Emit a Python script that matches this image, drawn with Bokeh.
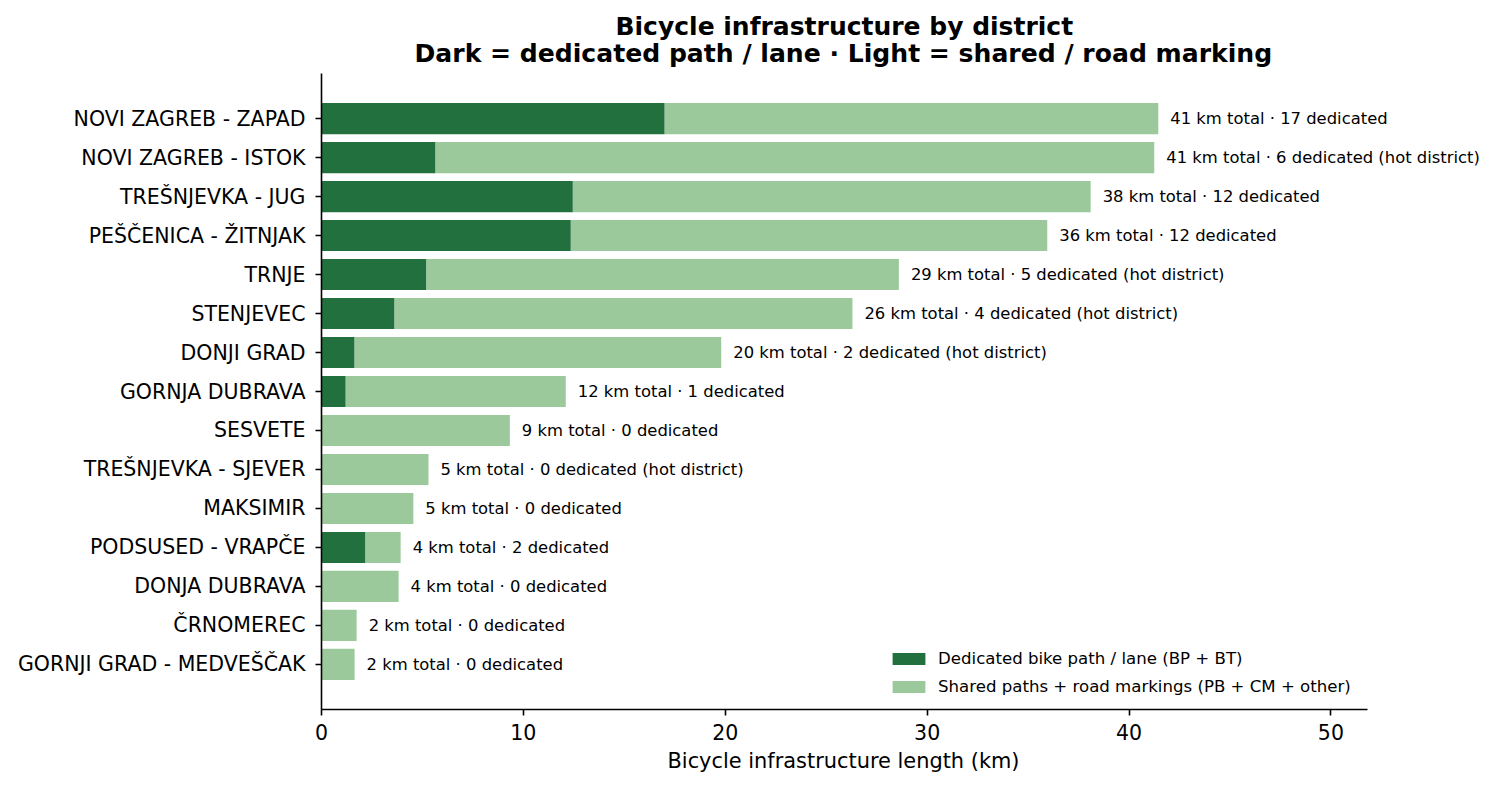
from bokeh.plotting import figure
from bokeh.models import (ColumnDataSource, FactorRange, Range1d, FixedTicker,
                          Title, Legend, LegendItem, LabelSet)
from bokeh.core.properties import value
from bokeh.embed import file_html
from bokeh.resources import INLINE

# districts, top to bottom
districts = [
    "NOVI ZAGREB - ZAPAD", "NOVI ZAGREB - ISTOK", "TREŠNJEVKA - JUG",
    "PEŠČENICA - ŽITNJAK", "TRNJE", "STENJEVEC", "DONJI GRAD",
    "GORNJA DUBRAVA", "SESVETE", "TREŠNJEVKA - SJEVER", "MAKSIMIR",
    "PODSUSED - VRAPČE", "DONJA DUBRAVA", "ČRNOMEREC", "GORNJI GRAD - MEDVEŠČAK",
]
# km of dedicated path / lane (BP + BT)
dedicated_km = [17.0, 5.65, 12.45, 12.35, 5.2, 3.62, 1.64, 1.2,
                0.0, 0.0, 0.0, 2.18, 0.0, 0.0, 0.0]
# total km (dedicated + shared + road markings)
total_km = [41.45, 41.25, 38.1, 35.95, 28.6, 26.3, 19.8, 12.1,
            9.33, 5.3, 4.55, 3.92, 3.82, 1.74, 1.64]
hot_district = [False, True, False, False, True, True, True, False,
                False, True, False, False, False, False, False]
x_ticks = [0, 10, 20, 30, 40, 50]

DARK = "#21703d"
LIGHT = "#9cc99c"
FONT = "DejaVu Sans"

labels = []
for t, d, h in zip(total_km, dedicated_km, hot_district):
    s = f"{int(t + 0.5)} km total · {int(d + 0.5)} dedicated"
    if h:
        s += " (hot district)"
    labels.append(s)

src = ColumnDataSource(dict(district=districts, dedicated=dedicated_km,
                            total=total_km, label=labels))

# axis ends at 1.25 x the longest bar; the frame runs further right so the
# value labels are not clipped
xlim = max(total_km) * 1.25
axis_px = 1046      # drawn x-axis length
frame_px = 1169     # full frame width
x_end = xlim * frame_px / axis_px

p = figure(width=1495, height=778,
           y_range=FactorRange(factors=districts[::-1], range_padding=0.655,
                               range_padding_units="absolute"),
           x_range=Range1d(0, x_end),
           output_backend="svg", toolbar_location=None, title_location=None,
           min_border_left=321, min_border_right=1495 - 321 - frame_px,
           min_border_top=73, min_border_bottom=69)

r_ded = p.hbar(y="district", left=0, right="dedicated", height=0.8,
               fill_color=DARK, line_color=None, source=src)
r_sh = p.hbar(y="district", left="dedicated", right="total", height=0.8,
              fill_color=LIGHT, line_color=None, source=src)

p.add_layout(LabelSet(x="total", y="district", text="label", x_offset=12,
                      text_baseline="middle", text_align="left",
                      text_font=value(FONT), text_font_size="16.4px",
                      text_color="black", source=src))

legend = Legend(items=[
    LegendItem(label="Dedicated bike path / lane (BP + BT)", renderers=[r_ded]),
    LegendItem(label="Shared paths + road markings (PB + CM + other)", renderers=[r_sh]),
], location=(567, 13), margin=0, padding=10, spacing=8,
    glyph_width=41, glyph_height=15, label_height=20, label_standoff=9,
    label_text_font=FONT, label_text_font_size="16.6px", label_text_color="black",
    border_line_color=None, background_fill_alpha=0)
p.add_layout(legend)

# titles are centred over the drawn axis (not the wider frame)
p.add_layout(Title(text="Dark = dedicated path / lane · Light = shared / road marking",
                   align="left", offset=93, text_font=FONT, text_font_size="25.1px",
                   text_font_style="bold", text_color="black", standoff=11), "above")
p.add_layout(Title(text="Bicycle infrastructure by district",
                   align="left", offset=294, text_font=FONT, text_font_size="25px",
                   text_font_style="bold", text_color="black", standoff=-18), "above")

p.xgrid.grid_line_color = None
p.ygrid.grid_line_color = None
p.outline_line_color = None

p.xaxis.ticker = FixedTicker(ticks=x_ticks)
p.xaxis.bounds = (0, xlim)
p.xaxis.major_label_text_font_size = "20.5px"
p.add_layout(Title(text="Bicycle infrastructure length (km)",
                   align="left", offset=346, text_font=FONT, text_font_size="20.9px",
                   text_font_style="normal", text_color="black", standoff=8), "below")

for ax in (p.xaxis, p.yaxis):
    ax.axis_line_color = "black"
    ax.axis_line_width = 1.6
    ax.major_tick_line_color = "black"
    ax.major_tick_line_width = 1.6
    ax.major_tick_out = 6
    ax.major_tick_in = 0
    ax.minor_tick_out = 0
    ax.minor_tick_in = 0
    ax.major_label_text_font = FONT
    ax.major_label_text_color = "black"

p.xaxis.major_label_standoff = 8
p.yaxis.major_label_standoff = 10
p.yaxis.major_label_text_font_size = "20.5px"

open("out.html", "w", encoding="utf-8").write(file_html(p, INLINE))
